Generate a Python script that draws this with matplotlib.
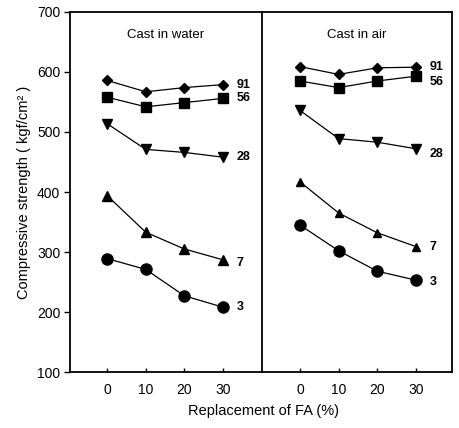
import matplotlib
matplotlib.use('Agg')
import matplotlib.pyplot as plt

plt.rcParams['font.family'] = ['Liberation Sans', 'DejaVu Sans']

# Remplacement des cendres volantes (%)
fa_pct = [0, 10, 20, 30]
ages = ['91', '56', '28', '7', '3']
markers = ['D', 's', 'v', '^', 'o']

# Coulé dans l'eau
water_91 = [586, 567, 574, 579]
water_56 = [558, 542, 549, 556]
water_28 = [514, 471, 466, 458]
water_7 = [394, 333, 305, 287]
water_3 = [289, 271, 227, 208]

# Coulé à l'air
air_91 = [609, 596, 607, 608]
air_56 = [585, 574, 585, 593]
air_28 = [536, 489, 483, 472]
air_7 = [417, 365, 332, 309]
air_3 = [345, 302, 268, 253]

water = [water_91, water_56, water_28, water_7, water_3]
air = [air_91, air_56, air_28, air_7, air_3]

# tailles des marqueurs (le 7 jours est plus petit à droite)
water_ms = [5, 7.5, 7, 7, 8]
air_ms = [5, 7.5, 7, 5.5, 8]

# décalage vertical des étiquettes (points)
water_lbl_dy = [0, 0, 0, -2, 0]
air_lbl_dy = [0, -4, -4, 0, -1]

fig = plt.figure(figsize=(4.59, 4.28), dpi=100)
ax1 = fig.add_axes([70 / 459, 56 / 428, 192 / 459, 360 / 428])
ax2 = fig.add_axes([262 / 459, 56 / 428, 190 / 459, 360 / 428], sharey=ax1)


def draw_panel(ax, series, sizes, dys, title, xlim):
    for vals, lab, mk, ms, dy in zip(series, ages, markers, sizes, dys):
        ax.plot(fa_pct, vals, color='black', linewidth=0.9,
                marker=mk, markersize=ms, markerfacecolor='black',
                markeredgecolor='black')
        ax.annotate(lab, (fa_pct[-1], vals[-1]), xytext=(10, dy),
                    textcoords='offset points', ha='left', va='center',
                    fontsize=9, fontweight='bold')
    ax.set_xlim(*xlim)
    ax.set_xticks(fa_pct)
    ax.tick_params(axis='x', direction='in', length=3, width=1,
                   pad=8, labelsize=10)
    ax.text(0.5, 0.935, title, transform=ax.transAxes, ha='center',
            va='center', fontsize=9.5)
    for sp in ax.spines.values():
        sp.set_linewidth(1.3)


draw_panel(ax1, water, water_ms, water_lbl_dy, 'Cast in water', (-9.6, 40.1))
draw_panel(ax2, air, air_ms, air_lbl_dy, 'Cast in air', (-9.8, 39.3))

ax1.set_ylim(100, 700)
ax1.set_yticks(range(100, 701, 100))
ax1.tick_params(axis='y', direction='out', length=4, width=1,
                pad=3, labelsize=10)
ax1.spines['right'].set_visible(False)
ax2.tick_params(axis='y', left=False, labelleft=False)

ax1.set_ylabel('Compressive strength ( kgf/cm² )', fontsize=10.5, labelpad=4)
fig.text(263 / 459, 1 - 411 / 428, 'Replacement of FA (%)',
         ha='center', va='center', fontsize=10.5)

plt.savefig('out.png', dpi=100)
plt.close()
